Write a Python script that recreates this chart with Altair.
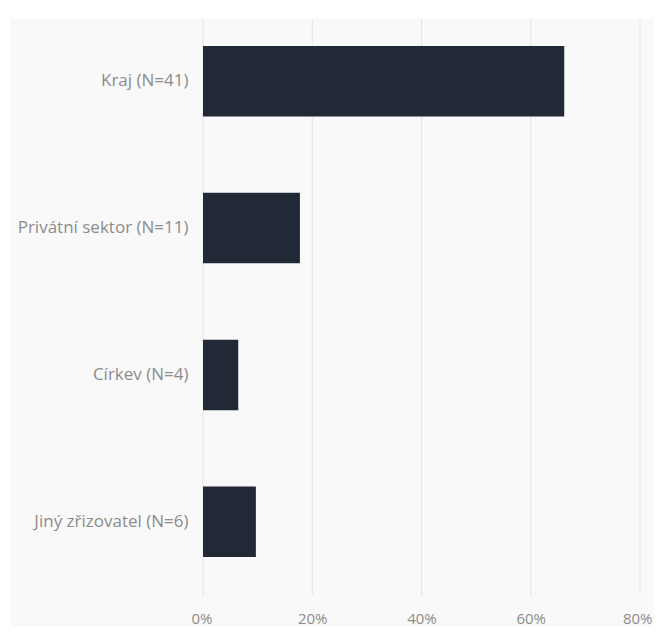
import altair as alt
import pandas as pd

categories = ["Kraj (N=41)", "Privátní sektor (N=11)", "Církev (N=4)", "Jiný zřizovatel (N=6)"]
counts = [41, 11, 4, 6]
total = sum(counts)
shares = [c / total for c in counts]
x_ticks = [0, 0.2, 0.4, 0.6, 0.8]

df = pd.DataFrame({"cat": categories, "share": shares})
grid_df = pd.DataFrame({"t": x_ticks})

x_scale = alt.Scale(domain=[0, 0.8], nice=False)

panel = alt.Chart(pd.DataFrame({"a": [0]})).mark_rect(color="#f9f9f9").encode(
    x=alt.value(-193), x2=alt.value(451), y=alt.value(0), y2=alt.value(640)
)

grid = alt.Chart(grid_df).mark_rule(color="#e4e4e4", strokeWidth=1).encode(
    x=alt.X("t:Q", scale=x_scale, title=None),
    y=alt.value(0), y2=alt.value(576),
)

bars = alt.Chart(df).mark_bar(color="#222936").encode(
    y=alt.Y(
        "cat:N",
        sort=categories,
        title=None,
        scale=alt.Scale(paddingInner=0.52, paddingOuter=0.221, align=0.415),
        axis=alt.Axis(
            labelColor="#8c8c8c", labelFontSize=17, labelFont="Open Sans",
            ticks=False, domain=False, grid=False, labelPadding=15, zindex=1,
        ),
    ),
    x=alt.X(
        "share:Q",
        title=None,
        scale=x_scale,
        axis=alt.Axis(
            values=x_ticks, format=".0%", labelColor="#8c8c8c", labelFontSize=15,
            labelFont="Open Sans", ticks=False, domain=False, grid=False,
            labelPadding=16, labelFlush=True, labelFlushOffset=12, zindex=1,
        ),
    ),
)

chart = alt.layer(panel, grid, bars).properties(
    width=437, height=576,
    autosize=alt.AutoSizeParams(type="none"),
    padding={"left": 195, "top": 11, "right": 14, "bottom": 32},
    background="white",
).configure_view(stroke=None)

chart.save("out.html", embed_options={"renderer": "svg", "actions": False})
